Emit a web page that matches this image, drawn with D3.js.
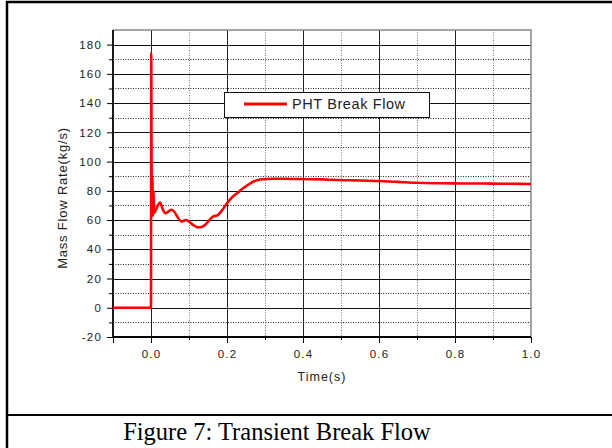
<!DOCTYPE html>
<html>
<head>
<meta charset="utf-8">
<script src="https://cdn.jsdelivr.net/npm/d3@7"></script>
<style>
  html, body { margin: 0; padding: 0; background: #fff; }
  svg { display: block; }
</style>
</head>
<body>
<svg id="chart" width="612" height="448"></svg>
<script>
// ---- data ----
const timeValues = [-0.1, 0, 0.0005, 0.002, 0.0035, 0.005, 0.0065, 0.008, 0.0105, 0.016, 0.024, 0.03, 0.038, 0.046, 0.054, 0.062, 0.07, 0.08, 0.086, 0.092, 0.1, 0.112, 0.123, 0.133, 0.142, 0.152, 0.163, 0.176, 0.188, 0.2, 0.215, 0.23, 0.242, 0.255, 0.268, 0.28, 0.294, 0.32, 0.35, 0.39, 0.45, 0.49, 0.55, 0.597, 0.65, 0.697, 0.75, 0.797, 0.85, 0.9, 0.95, 1.0];
const flowValues = [0, 0, 174, 66, 90, 63, 80, 65, 65.7, 69, 72, 68, 64.6, 66, 67, 65.5, 62, 59, 59.5, 60, 59, 56.5, 55, 55.3, 56.6, 59.5, 62.3, 63.4, 67, 71.4, 76, 79, 81.7, 84, 86.2, 87.3, 87.9, 88.2, 88.2, 88.1, 87.8, 87.4, 87.1, 86.7, 86.1, 85.5, 85.2, 85.1, 85, 84.9, 84.8, 84.7];
const xMajorTicks = [-0.1, 0.0, 0.2, 0.4, 0.6, 0.8, 1.0];
const xLabelTicks = [0.0, 0.2, 0.4, 0.6, 0.8, 1.0];
const xMinorTicks = [0.1, 0.3, 0.5, 0.7, 0.9];
const yMajorTicks = [-20, 0, 20, 40, 60, 80, 100, 120, 140, 160, 180];
const yMinorTicks = [-10, 10, 30, 50, 70, 90, 110, 130, 150, 170];
const seriesName = "PHT Break Flow";
const xTitle = "Time(s)";
const yTitle = "Mass Flow Rate(kg/s)";
const caption = "Figure 7: Transient Break Flow";

// ---- layout ----
const L = 113, R = 531, T = 30, B = 337;
const svg = d3.select("#chart");
const x = d3.scaleLinear().domain([-0.1, 1.0]).range([L, R]);
const y = d3.scaleLinear().domain([-20, 190]).range([B, T]);
const sans = "Liberation Sans, Arial, sans-serif";

// outer frame
svg.append("path").attr("d", `M7,448 V2 H612`).attr("fill", "none").attr("stroke", "#000").attr("stroke-width", 2.5);
svg.append("line").attr("x1", 7).attr("x2", 612).attr("y1", 415).attr("y2", 415).attr("stroke", "#000").attr("stroke-width", 2);

// grid
const g = svg.append("g");
g.selectAll(".vmin").data(xMinorTicks).join("line")
  .attr("x1", d => Math.round(x(d)) + 0.5).attr("x2", d => Math.round(x(d)) + 0.5)
  .attr("y1", T).attr("y2", B)
  .attr("stroke", "#777").attr("stroke-width", 1).attr("stroke-dasharray", "1,1.5");
g.selectAll(".hmin").data(yMinorTicks).join("line")
  .attr("y1", d => Math.round(y(d)) + 0.5).attr("y2", d => Math.round(y(d)) + 0.5)
  .attr("x1", L).attr("x2", R)
  .attr("stroke", "#222").attr("stroke-width", 1).attr("stroke-dasharray", "1,1.5");
g.selectAll(".vmaj").data(xMajorTicks.filter(d => d > -0.1 && d < 1.0)).join("line")
  .attr("x1", d => Math.round(x(d)) + 0.5).attr("x2", d => Math.round(x(d)) + 0.5)
  .attr("y1", T).attr("y2", B)
  .attr("stroke", "#222").attr("stroke-width", 1);
g.selectAll(".hmaj").data(yMajorTicks.filter(d => d > -20)).join("line")
  .attr("y1", d => Math.round(y(d)) + 0.5).attr("y2", d => Math.round(y(d)) + 0.5)
  .attr("x1", L).attr("x2", R)
  .attr("stroke", "#111").attr("stroke-width", 1);

// top/right frame
svg.append("path").attr("d", `M${L},${T} H${R} V${B}`).attr("fill", "none").attr("stroke", "#888").attr("stroke-width", 1.5);

// axes
const fmtX = d3.format(".1f");
const xAxis = svg.append("g").attr("transform", `translate(0,${B})`)
  .call(d3.axisBottom(x).tickValues(xMajorTicks).tickSize(6).tickFormat(d => xLabelTicks.includes(d) ? fmtX(d) : ""));
xAxis.select(".domain").attr("stroke-width", 1.8).attr("d", `M${L},0H${R}`);
xAxis.selectAll("text").attr("font-family", sans).attr("font-size", 11.5).attr("letter-spacing", 1.2).attr("fill", "#222").attr("dy", "1.05em");
svg.append("g").attr("transform", `translate(0,${B})`)
  .call(d3.axisBottom(x).tickValues(xMinorTicks).tickSize(3).tickFormat(""))
  .select(".domain").remove();

const yAxis = svg.append("g").attr("transform", `translate(${L},0)`)
  .call(d3.axisLeft(y).tickValues(yMajorTicks).tickSize(6).tickPadding(5).tickFormat(d => String(d)));
yAxis.select(".domain").attr("stroke-width", 1.8).attr("d", `M0,${B}V${T}`);
yAxis.selectAll("text").attr("font-family", sans).attr("font-size", 11.5).attr("letter-spacing", 1.2).attr("fill", "#222");
svg.append("g").attr("transform", `translate(${L},0)`)
  .call(d3.axisLeft(y).tickValues(yMinorTicks).tickSize(4).tickFormat(""))
  .select(".domain").remove();

// series
const pts = timeValues.map((t, i) => [t, flowValues[i]]);
svg.append("path").datum(pts)
  .attr("d", d3.line().x(d => x(d[0])).y(d => y(d[1])).curve(d3.curveMonotoneX))
  .attr("fill", "none").attr("stroke", "#ff0000").attr("stroke-width", 2.6).attr("stroke-linejoin", "round");

// titles
svg.append("text").attr("x", 322).attr("y", 381).attr("text-anchor", "middle")
  .attr("font-family", sans).attr("font-size", 12.5).attr("letter-spacing", 1)
  .attr("fill", "#222").text(xTitle);
svg.append("text").attr("transform", "translate(67,198) rotate(-90)").attr("text-anchor", "middle")
  .attr("font-family", sans).attr("font-size", 13).attr("letter-spacing", 0.8)
  .attr("fill", "#222").text(yTitle);

// legend
const lg = svg.append("g");
lg.append("rect").attr("x", 224.5).attr("y", 92.5).attr("width", 205).attr("height", 25)
  .attr("fill", "#fff").attr("stroke", "#111").attr("stroke-width", 1);
lg.append("line").attr("x1", 244).attr("x2", 287).attr("y1", 104).attr("y2", 104)
  .attr("stroke", "#ff0000").attr("stroke-width", 3);
lg.append("text").attr("x", 292).attr("y", 109).attr("font-family", sans)
  .attr("font-size", 14.5).attr("letter-spacing", 0.6).attr("fill", "#222").text(seriesName);

// caption
svg.append("text").attr("x", 277).attr("y", 440).attr("text-anchor", "middle")
  .attr("font-family", "Liberation Serif, Times New Roman, serif").attr("font-size", 24.5)
  .attr("fill", "#000").text(caption);
</script>
</body>
</html>
